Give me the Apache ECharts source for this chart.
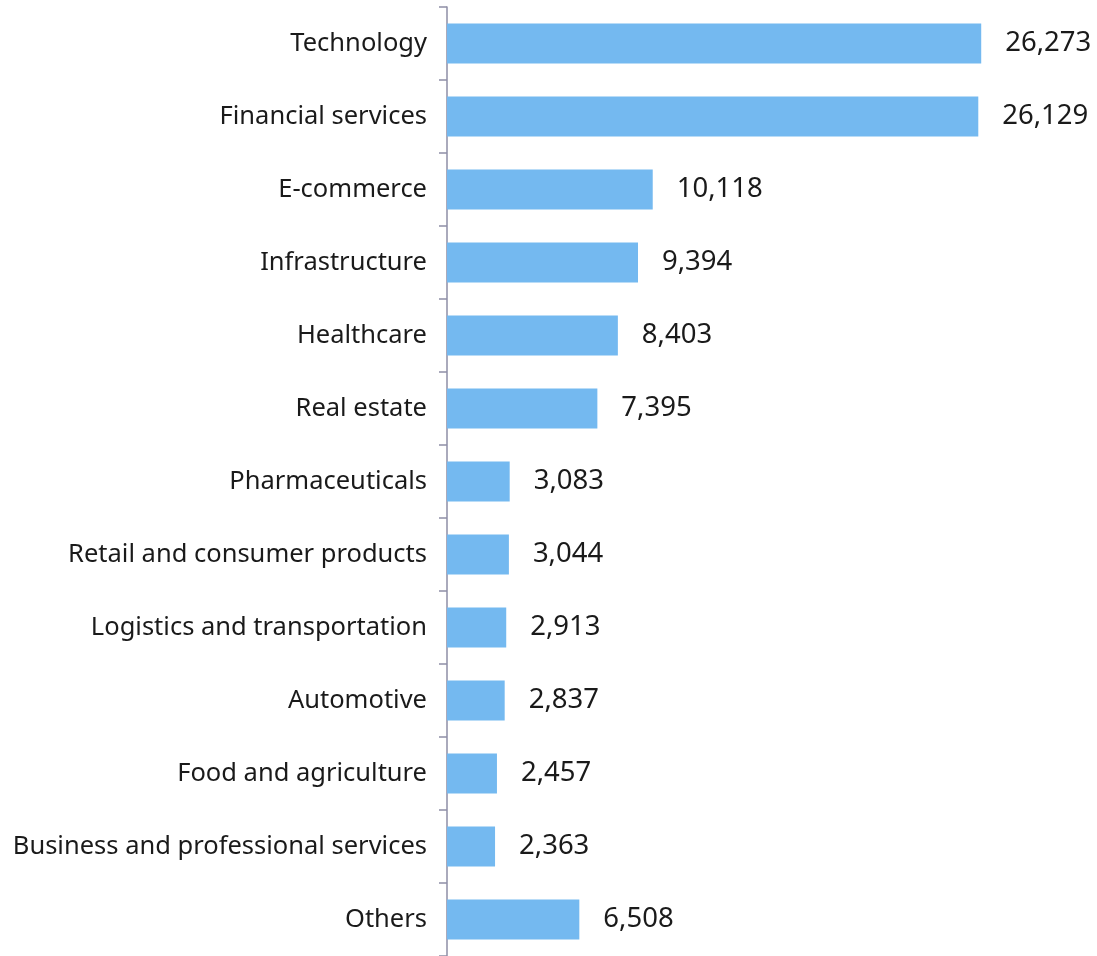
<!DOCTYPE html>
<html>
<head>
<meta charset="utf-8">
<style>
  html, body { margin: 0; padding: 0; background: #fff; }
  #main { width: 1097px; height: 956px; }
</style>
<script src="https://cdn.jsdelivr.net/npm/echarts@6/dist/echarts.min.js"></script>
</head>
<body>
<div id="main"></div>
<script>
// 行业类别（从上到下）
var categories = [
    'Technology',
    'Financial services',
    'E-commerce',
    'Infrastructure',
    'Healthcare',
    'Real estate',
    'Pharmaceuticals',
    'Retail and consumer products',
    'Logistics and transportation',
    'Automotive',
    'Food and agriculture',
    'Business and professional services',
    'Others'
];
var values = [26273, 26129, 10118, 9394, 8403, 7395, 3083, 3044, 2913, 2837, 2457, 2363, 6508];

var chart = echarts.init(document.getElementById('main'));
var option = {
    animation: false,
    grid: {
        left: 447,
        right: 40,
        top: 7,
        bottom: -2
    },
    xAxis: {
        type: 'value',
        min: 0,
        max: 30000,
        show: false
    },
    yAxis: {
        type: 'category',
        inverse: true,
        data: categories,
        axisLine: {lineStyle: {color: '#8e8ea6', width: 1.5}},
        axisTick: {show: true, length: 8, lineStyle: {color: '#8e8ea6', width: 1.5}},
        axisLabel: {
            margin: 20,
            color: '#1a1a1a',
            fontFamily: 'Noto Sans',
            fontSize: 25.5,
            padding: [4, 0, 0, 0]
        }
    },
    series: [{
        type: 'bar',
        data: values,
        barWidth: '55%',
        itemStyle: {color: '#74b9f0'},
        label: {
            show: true,
            position: 'right',
            distance: 24,
            color: '#1a1a1a',
            fontFamily: 'Noto Sans',
            fontSize: 27.5,
            padding: [4, 0, 0, 0],
            formatter: function (p) {
                return p.value.toLocaleString('en-US');
            }
        }
    }]
};
chart.setOption(option);
</script>
</body>
</html>
